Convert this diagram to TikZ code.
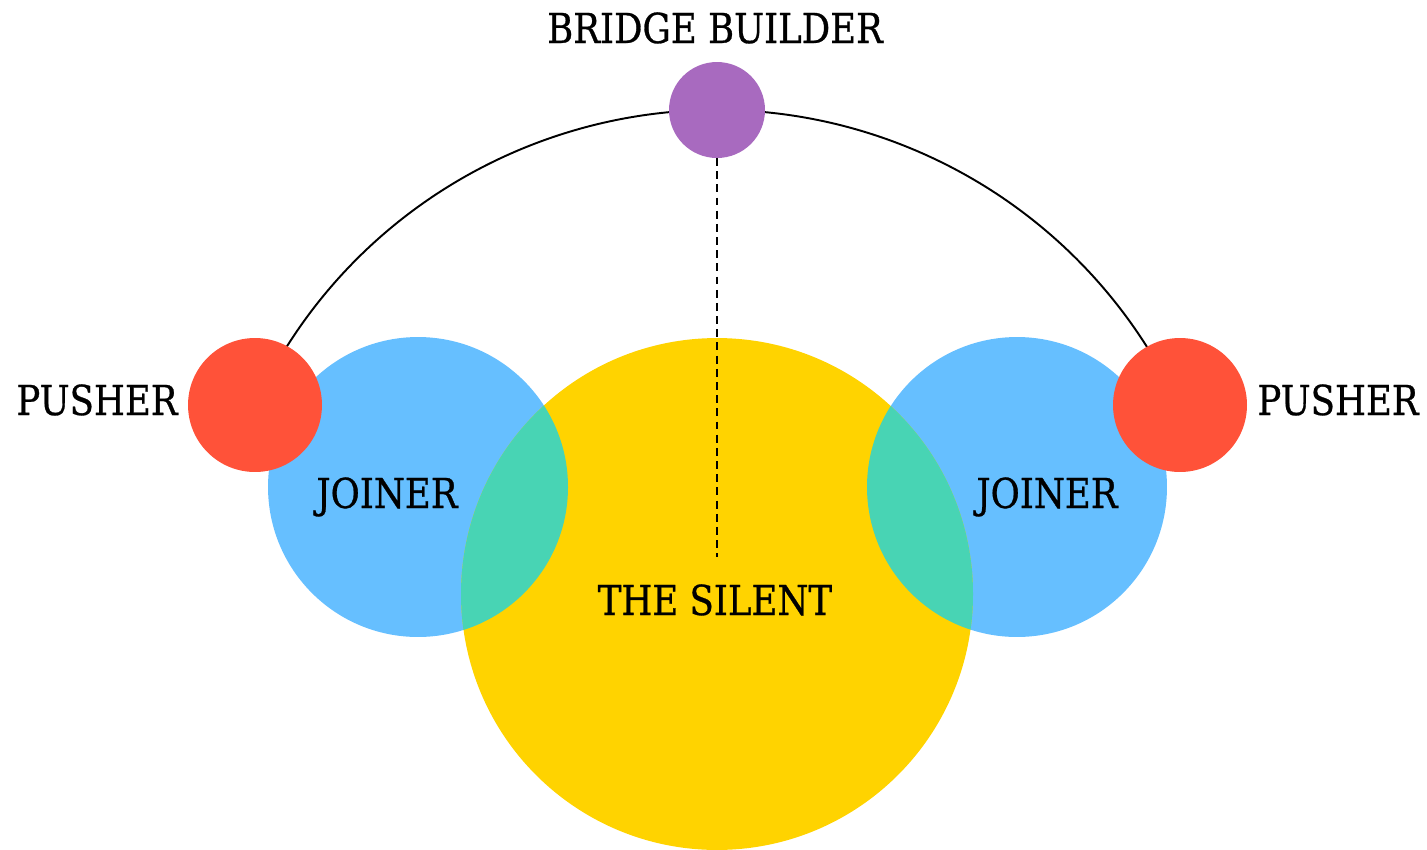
\documentclass[tikz,border=0pt]{standalone}
\usepackage{fontspec}
\setmainfont{DejaVu Serif}[FakeStretch=0.86,FakeBold=0.7]
\usetikzlibrary{backgrounds}

\definecolor{joinblue}{HTML}{66BFFF}
\definecolor{silentyellow}{HTML}{FFD300}
\definecolor{overlapteal}{HTML}{48D4B4}
\definecolor{pushred}{HTML}{FF5239}
\definecolor{bridgepurple}{HTML}{A86ABF}

\begin{document}
\begin{tikzpicture}
	[
	x=0.02cm, y=-0.02cm,
	disc/.style={circle, inner sep=0pt, outer sep=0pt},
	word/.style={anchor=base, inner sep=0pt, font=\fontsize{23.5}{27}\selectfont},
	]
		\useasboundingbox (0,0) rectangle (1427,849);
		
		% joiners
		\node[disc, fill=joinblue, minimum size=6cm] (jl) at 		( 418, 487 ) {};
		\node[disc, fill=joinblue, minimum size=6cm] (jr) at 		(1017, 487 ) {};
		
		% the silent
		\node[disc, fill=silentyellow, minimum size=10.24cm] (ts) at 		( 717, 594 ) {};
		\begin{scope}
			\clip (ts.center) circle[radius=256];
			\foreach \j in {jl,jr} \fill[overlapteal] (\j.center) circle[radius=150];
		\end{scope}
		
		% pushers
		\node[disc, fill=pushred, minimum size=2.68cm] (pl) at 		( 255, 405 ) {};
		\node[disc, fill=pushred, minimum size=2.68cm] (pr) at 		(1180, 405 ) {};
		
		% bridge builder
		\node[disc, fill=bridgepurple, minimum size=1.92cm] (bb) at 		( 717, 110 ) {};
		\coordinate (de) at 		( 717, 557 );
		
		\begin{pgfonlayer}{background}
			\draw[line width=1.1pt] (pl.center) arc[start angle=-155.14, end angle=-24.86, radius=509];
		\end{pgfonlayer}
		\draw[line width=1.1pt, dash pattern=on 4.5pt off 3pt] (bb.south) -- (de);
		
		% labels
		\node[word] (tbb) at 		( 715,  43 ) {BRIDGE BUILDER};
		\node[word] (tpl) at 		(  97, 415 ) {PUSHER};
		\node[word] (tpr) at 		(1338, 415 ) {PUSHER};
		\node[word] (tjl) at 		( 387, 508 ) {JOINER};
		\node[word] (tjr) at 		(1047, 508 ) {JOINER};
		\node[word] (tts) at 		( 715, 615 ) {THE SILENT};
		
	\end{tikzpicture}
\end{document}
